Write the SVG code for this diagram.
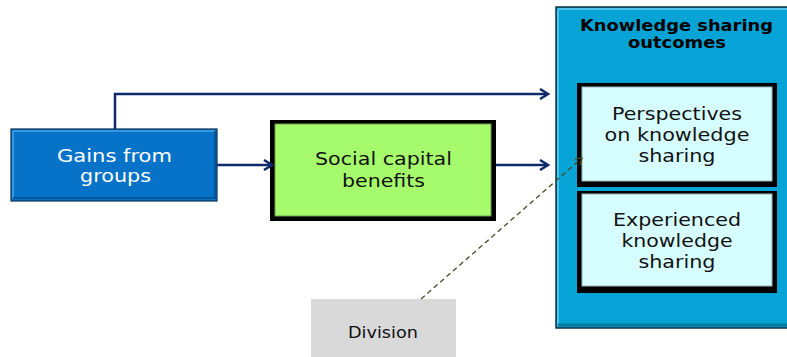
<svg xmlns="http://www.w3.org/2000/svg" width="787" height="357" viewBox="0 0 787 357">
<style>
.t{font-family:"DejaVu Sans",Verdana,sans-serif;text-anchor:middle}
.conn{fill:none;stroke:#0f2a6b;stroke-width:2.5}
.dash{fill:none;stroke:#4b4b22;stroke-width:1.3;stroke-dasharray:5,3.5}
</style>
<defs>
<marker id="ah" markerWidth="12" markerHeight="12" refX="9" refY="6" orient="auto" markerUnits="userSpaceOnUse">
<path d="M2,1 L10,6 L2,11" fill="none" stroke="#0f2a6b" stroke-width="2.5"/>
</marker>
<marker id="ad" markerWidth="12" markerHeight="12" refX="9" refY="6" orient="auto" markerUnits="userSpaceOnUse">
<path d="M3,2 L9,6 L3,10" fill="none" stroke="#4b4b22" stroke-width="1.3"/>
</marker>
</defs>
<rect width="787" height="357" fill="#ffffff"/>
<g id="outcomes">
<rect x="556" y="7" width="240" height="321" fill="#06a4d6" stroke="#0b3040" stroke-width="1.5"/>
<path d="M558,9 H787 M558,9 V326" stroke="#4fc3e8" stroke-width="2" fill="none"/>
<path d="M558,325 H787" stroke="#047aa1" stroke-width="3" fill="none"/>
<text class="t" x="676.5" y="30.5" font-size="15" font-weight="bold" fill="#000" textLength="193" lengthAdjust="spacingAndGlyphs">Knowledge sharing</text>
<text class="t" x="677" y="48" font-size="15" font-weight="bold" fill="#000" textLength="98" lengthAdjust="spacingAndGlyphs">outcomes</text>
</g>
<g id="perspectives">
<rect x="577" y="83" width="200" height="104" fill="#000"/>
<rect x="582" y="87" width="190" height="94" fill="#d6fdff" stroke="#9ababa" stroke-width="1"/>
<text class="t" x="677" y="120" font-size="17.5" fill="#111" textLength="130" lengthAdjust="spacingAndGlyphs">Perspectives</text>
<text class="t" x="677" y="141" font-size="17.5" fill="#111" textLength="145" lengthAdjust="spacingAndGlyphs">on knowledge</text>
<text class="t" x="677" y="162" font-size="17.5" fill="#111" textLength="77" lengthAdjust="spacingAndGlyphs">sharing</text>
</g>
<g id="experienced">
<rect x="577" y="191" width="200" height="102" fill="#000"/>
<rect x="582" y="194" width="190" height="92" fill="#d6fdff" stroke="#9ababa" stroke-width="1"/>
<text class="t" x="677" y="226" font-size="17.5" fill="#111" textLength="128" lengthAdjust="spacingAndGlyphs">Experienced</text>
<text class="t" x="677" y="247" font-size="17.5" fill="#111" textLength="111" lengthAdjust="spacingAndGlyphs">knowledge</text>
<text class="t" x="677" y="268" font-size="17.5" fill="#111" textLength="77" lengthAdjust="spacingAndGlyphs">sharing</text>
</g>
<g id="gains">
<rect x="11" y="129" width="206" height="72" fill="#0673c9" stroke="#0b2f55" stroke-width="1.2"/>
<path d="M13,131 H215 M13,131 V199" stroke="#3a98e0" stroke-width="2" fill="none"/>
<path d="M13,198 H215 V131" stroke="#04569a" stroke-width="2" fill="none"/>
<text class="t" x="114.5" y="162" font-size="17.5" fill="#ffffff" textLength="115" lengthAdjust="spacingAndGlyphs">Gains from</text>
<text class="t" x="115.5" y="182" font-size="17.5" fill="#ffffff" textLength="71" lengthAdjust="spacingAndGlyphs">groups</text>
</g>
<g id="social">
<rect x="270" y="120" width="226" height="101" fill="#000"/>
<rect x="275" y="124" width="216" height="92" fill="#a6fb6c" stroke="#6e9d48" stroke-width="1"/>
<text class="t" x="383.5" y="165" font-size="17.5" fill="#111" textLength="137" lengthAdjust="spacingAndGlyphs">Social capital</text>
<text class="t" x="383.5" y="187" font-size="17.5" fill="#111" textLength="83" lengthAdjust="spacingAndGlyphs">benefits</text>
</g>
<g id="division">
<rect x="311" y="299" width="145" height="58" fill="#d9d9d9"/>
<text class="t" x="383" y="338" font-size="15.5" fill="#111" textLength="70" lengthAdjust="spacingAndGlyphs">Division</text>
</g>
<g id="connectors">
<path class="conn" d="M115,129 V94 H547" marker-end="url(#ah)"/>
<path class="conn" d="M217,165 H271" marker-end="url(#ah)"/>
<path class="conn" d="M496,165 H547" marker-end="url(#ah)"/>
<path class="dash" d="M421,299 L582,158" marker-end="url(#ad)"/>
</g>
</svg>
